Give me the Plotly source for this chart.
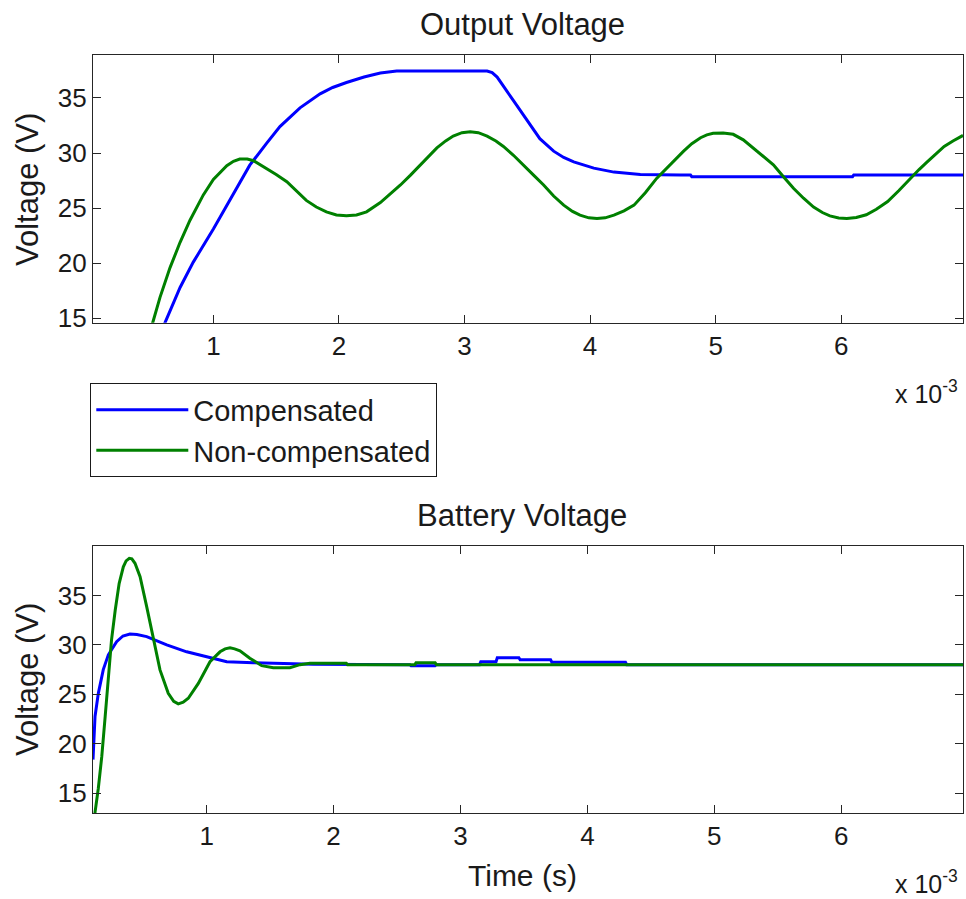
import plotly.graph_objects as go
from plotly.subplots import make_subplots

# ---------------- data (time in ms, voltage in V) ----------------
out_comp_t = [0.56, 0.615, 0.735, 0.84, 1.0, 1.16, 1.29, 1.425, 1.53, 1.69, 1.85, 1.95, 2.06, 2.2, 2.33, 2.46,
              3.18, 3.22, 3.26, 3.39, 3.5, 3.6, 3.71, 3.79, 3.87, 4.03, 4.19, 4.40, 4.72, 4.80, 4.81,
              6.09, 6.10, 6.97]
out_comp_v = [13.5, 14.6, 17.8, 20.1, 23.1, 26.3, 28.9, 30.9, 32.4, 34.1, 35.37, 35.95, 36.4, 36.9, 37.26, 37.44,
              37.44, 37.3, 36.9, 34.75, 32.9, 31.3, 30.17, 29.6, 29.2, 28.63, 28.27, 28.05, 28.0, 28.0, 27.85,
              27.85, 28.0, 28.0]

out_nc_t = [0.48, 0.517, 0.575, 0.655, 0.735, 0.814, 0.92, 1.0, 1.107, 1.16, 1.21, 1.27, 1.32, 1.425, 1.5,
            1.585, 1.66, 1.74, 1.82, 1.9, 1.98, 2.06, 2.14, 2.22, 2.33, 2.41, 2.49, 2.57, 2.65, 2.78, 2.85,
            2.91, 2.98, 3.045, 3.11, 3.18, 3.25, 3.31, 3.39, 3.47, 3.55, 3.63, 3.71, 3.79, 3.86, 3.92, 3.99,
            4.055, 4.12, 4.19, 4.27, 4.35, 4.44, 4.53, 4.64, 4.745, 4.81, 4.88, 4.93, 4.98, 5.06, 5.14, 5.22,
            5.30, 5.38, 5.46, 5.54, 5.62, 5.70, 5.78, 5.85, 5.91, 5.98, 6.045, 6.12, 6.2, 6.28, 6.37, 6.46,
            6.55, 6.62, 6.685, 6.75, 6.82, 6.89, 6.97]
out_nc_v = [12.5, 14.6, 16.9, 19.6, 21.9, 23.9, 26.2, 27.6, 28.85, 29.25, 29.45, 29.45, 29.3, 28.6, 28.05,
            27.4, 26.55, 25.7, 25.1, 24.66, 24.38, 24.3, 24.38, 24.66, 25.5, 26.3, 27.1, 28.0, 28.94, 30.47, 31.1,
            31.54, 31.85, 31.94, 31.85, 31.54, 31.1, 30.6, 29.8, 28.94, 28.0, 27.1, 26.1, 25.27, 24.7, 24.36, 24.12,
            24.05, 24.12, 24.36, 24.75, 25.27, 26.4, 27.7, 29.0, 30.17, 30.85, 31.39, 31.65, 31.8, 31.82, 31.7, 31.2,
            30.47, 29.75, 28.94, 27.85, 26.8, 25.9, 25.1, 24.6, 24.3, 24.1, 24.05, 24.15, 24.4, 24.9, 25.6, 26.6,
            27.7, 28.5, 29.2, 29.9, 30.6, 31.1, 31.6]

bat_comp_t = [0.104, 0.112, 0.12, 0.146, 0.185, 0.225, 0.29, 0.34, 0.395, 0.45, 0.527, 0.685, 0.842, 1.0,
              1.158, 1.367, 1.63, 1.84, 2.6, 2.61, 2.80, 2.81, 3.15, 3.16, 3.28, 3.29, 3.46, 3.47, 3.71, 3.72,
              4.30, 4.31, 6.96]
bat_comp_v = [18.4, 20.7, 22.76, 25.1, 27.5, 29.0, 30.33, 30.9, 31.1, 31.05, 30.84, 30.0, 29.3, 28.8,
              28.3, 28.2, 28.15, 28.05, 28.0, 27.9, 27.9, 28.0, 28.0, 28.3, 28.3, 28.7, 28.7, 28.5, 28.5, 28.25,
              28.25, 28.0, 28.0]

bat_nc_t = [0.11, 0.12, 0.146, 0.173, 0.2, 0.225, 0.25, 0.279, 0.31, 0.343, 0.365, 0.39, 0.41, 0.435, 0.475,
            0.527, 0.58, 0.632, 0.697, 0.74, 0.776, 0.815, 0.855, 0.934, 1.026, 1.105, 1.145, 1.184, 1.22,
            1.262, 1.34, 1.433, 1.525, 1.656, 1.735, 1.814, 2.10, 2.11, 2.64, 2.65, 2.80, 2.81, 6.96]
bat_nc_v = [11.5, 13.06, 15.5, 18.7, 22.76, 27.1, 30.5, 33.5, 36.2, 37.9, 38.5, 38.76, 38.7, 38.25, 36.9,
            33.87, 30.5, 27.47, 25.1, 24.3, 24.04, 24.2, 24.6, 26.1, 28.3, 29.3, 29.6, 29.7, 29.6,
            29.4, 28.66, 27.9, 27.7, 27.7, 28.0, 28.15, 28.15, 28.0, 28.0, 28.2, 28.2, 28.0, 28.0]

x_tick_vals_ms = [1, 2, 3, 4, 5, 6]
x_tick_text = ["1", "2", "3", "4", "5", "6"]
y_tick_vals = [15, 20, 25, 30, 35]
series_names = ["Compensated", "Non-compensated"]
colors = ["#0000FF", "#008000"]

def sec(ms):
    return [v * 1e-3 for v in ms]

# ---------------- figure ----------------
W, H = 966, 899
ML, MR, MT, MB = 93, 3, 55, 86
PH = H - MT - MB
PW = W - ML - MR

def py2paper(py):
    return (H - MB - py) / PH

def px2paper(px):
    return (px - ML) / PW

fig = make_subplots(rows=2, cols=1)

LINE = dict(width=3)
fig.add_trace(go.Scatter(x=sec(out_comp_t), y=out_comp_v, mode="lines", name=series_names[0],
                         line=dict(color=colors[0], **LINE), legendgroup="c"), row=1, col=1)
fig.add_trace(go.Scatter(x=sec(out_nc_t), y=out_nc_v, mode="lines", name=series_names[1],
                         line=dict(color=colors[1], **LINE), legendgroup="n"), row=1, col=1)
fig.add_trace(go.Scatter(x=sec(bat_comp_t), y=bat_comp_v, mode="lines", name=series_names[0],
                         line=dict(color=colors[0], **LINE), showlegend=False, legendgroup="c"), row=2, col=1)
fig.add_trace(go.Scatter(x=sec(bat_nc_t), y=bat_nc_v, mode="lines", name=series_names[1],
                         line=dict(color=colors[1], **LINE), showlegend=False, legendgroup="n"), row=2, col=1)

FONT = "Liberation Sans, Arial, sans-serif"
TXT = "#1a1a1a"

axis_common = dict(showline=True, linecolor="#262626", linewidth=1.3, mirror="ticks",
                   ticks="inside", ticklen=8, tickwidth=1.3, tickcolor="#262626",
                   showgrid=False, zeroline=False, automargin=False,
                   tickfont=dict(family=FONT, size=26, color=TXT))

fig.update_xaxes(**axis_common, tickvals=sec(x_tick_vals_ms), ticktext=x_tick_text)
fig.update_yaxes(**axis_common, tickvals=y_tick_vals)

fig.update_layout(
    xaxis=dict(domain=[0, 1], range=[0.0414e-3, 6.97e-3]),
    yaxis=dict(domain=[py2paper(322.7), 1], range=[14.6, 38.9]),
    xaxis2=dict(domain=[0, 1], range=[0.104e-3, 6.96e-3]),
    yaxis2=dict(domain=[0, py2paper(546)], range=[13.0, 40.0]),
    width=W, height=H,
    margin=dict(l=ML, r=MR, t=MT, b=MB, autoexpand=False),
    paper_bgcolor="white", plot_bgcolor="white",
    showlegend=True,
    legend=dict(xref="container", yref="container", x=90 / W, y=1 - 383 / H,
                xanchor="left", yanchor="top",
                bordercolor="#1a1a1a", borderwidth=1.3, bgcolor="white",
                font=dict(family=FONT, size=29, color=TXT),
                itemwidth=92, tracegroupgap=0),
    font=dict(family=FONT, color=TXT),
)

annotations = [
    dict(text="Output Voltage", x=px2paper(522), y=py2paper(25), size=31, angle=0),
    dict(text="Battery Voltage", x=px2paper(522), y=py2paper(515), size=31, angle=0),
    dict(text="Time (s)", x=px2paper(522), y=py2paper(875), size=30, angle=0),
    dict(text="Voltage (V)", x=px2paper(27), y=py2paper(190), size=31, angle=-90),
    dict(text="Voltage (V)", x=px2paper(27), y=py2paper(680), size=31, angle=-90),
    dict(text="x 10<sup>-3</sup>", x=px2paper(926), y=py2paper(392), size=25, angle=0),
    dict(text="x 10<sup>-3</sup>", x=px2paper(926), y=py2paper(882), size=25, angle=0),
]
for a in annotations:
    fig.add_annotation(xref="paper", yref="paper", showarrow=False, xanchor="center", yanchor="middle",
                       text=a["text"], x=a["x"], y=a["y"], textangle=a["angle"],
                       font=dict(family=FONT, size=a["size"], color=TXT))

fig.write_html("out.html")
